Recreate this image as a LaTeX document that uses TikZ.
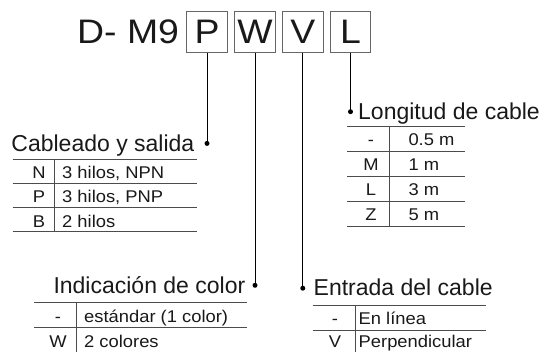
\documentclass[tikz,border=0pt]{standalone}
\usepackage{fontspec}
\setmainfont{Liberation Sans}
\newfontfamily\widefont[FakeStretch=1.1]{Liberation Sans}
\newfontfamily\cellfont[FakeStretch=1.08]{Liberation Sans}
\begin{document}
\begin{tikzpicture}[x=1pt,y=-1pt,
  big/.style={font=\widefont\fontsize{34}{36}\selectfont, inner sep=0, text=black!90},
  letterbox/.style={draw=black!60, line width=0.9pt, minimum width=40.6pt, minimum height=40.6pt, inner sep=0, font=\widefont\fontsize{34}{36}\selectfont, text=black!90},
  head/.style={font=\fontsize{23}{26}\selectfont, inner sep=0, text=black!90},
  cell/.style={font=\cellfont\fontsize{17}{19}\selectfont, inner sep=0, anchor=base west, text=black!90},
  code/.style={font=\cellfont\fontsize{17}{19}\selectfont, inner sep=0, anchor=base, text=black!90},
  rule/.style={draw=black!70, line width=0.9pt},
  dot/.style={circle, fill=black, inner sep=0, minimum size=5pt},
  stem/.style={draw=black, line width=0.9pt}
]
\useasboundingbox (0,0) rectangle (544,352);

% title
\node[big, anchor=base west] (title) at (77,43.3) {D- M9};
\node[letterbox] (bP) at (207,32) {P};
\node[letterbox] (bW) at (255,32) {W};
\node[letterbox] (bV) at (302.8,32) {V};
\node[letterbox] (bL) at (350.5,32) {L};

% dots
\node[dot] (dP) at (207,143.4) {};
\node[dot] (dL) at (350.5,111.7) {};
\node[dot] (dW) at (255,285.3) {};
\node[dot] (dV) at (302.8,288.2) {};

% stems
\draw[stem] (bP.south) -- (dP.center);
\draw[stem] (bW.south) -- (dW.center);
\draw[stem] (bV.south) -- (dV.center);
\draw[stem] (bL.south) -- (dL.center);

% ---- Cableado y salida
\node[head, anchor=base east] (hC) at (194.5,151.6) {Cableado y salida};
\draw[rule] (12.7,159) -- (196.7,159);
\draw[rule] (12.7,183.2) -- (196.7,183.2);
\draw[rule] (12.7,207.4) -- (196.7,207.4);
\draw[rule] (12.7,231.7) -- (196.7,231.7);
\draw[rule] (54.3,159) -- (54.3,231.7);
\node[code] (cN) at (39,178.6) {N};
\node[cell] (tN) at (62,178.6) {3 hilos, NPN};
\node[code] (cP) at (39,202.8) {P};
\node[cell] (tP) at (62,202.8) {3 hilos, PNP};
\node[code] (cB) at (39,227.2) {B};
\node[cell] (tB) at (62,227.2) {2 hilos};

% ---- Longitud de cable
\node[head, anchor=base west] (hL) at (358,120) {Longitud de cable};
\draw[rule] (347.3,126.7) -- (465,126.7);
\draw[rule] (347.3,151.7) -- (465,151.7);
\draw[rule] (347.3,176.7) -- (465,176.7);
\draw[rule] (347.3,201.7) -- (465,201.7);
\draw[rule] (347.3,226.7) -- (465,226.7);
\draw[rule] (389.3,126.7) -- (389.3,226.7);
\node[code] (c1) at (371,145.7) {-};
\node[cell] (t1) at (408.3,145.7) {0.5 m};
\node[code] (c2) at (371,170.7) {M};
\node[cell] (t2) at (408.3,170.7) {1 m};
\node[code] (c3) at (371,195.7) {L};
\node[cell] (t3) at (408.3,195.7) {3 m};
\node[code] (c4) at (371,220.7) {Z};
\node[cell] (t4) at (408.3,220.7) {5 m};

% ---- Indicacion de color
\node[head, anchor=base east] (hI) at (245.5,294) {Indicación de color};
\draw[rule] (34,302.3) -- (246.7,302.3);
\draw[rule] (34,327.3) -- (246.7,327.3);
\draw[rule] (76,302.3) -- (76,352);
\node[code] (ci1) at (58,322.6) {-};
\node[cell] (ti1) at (84,322.6) {estándar (1 color)};
\node[code] (ci2) at (58,347.3) {W};
\node[cell] (ti2) at (84,347.3) {2 colores};

% ---- Entrada del cable
\node[head, anchor=base west] (hE) at (313.5,296) {Entrada del cable};
\draw[rule] (312.7,305) -- (485.5,305);
\draw[rule] (312.7,330) -- (485.5,330);
\draw[rule] (355,305) -- (355,352);
\node[code] (ce1) at (335,324.5) {-};
\node[cell] (te1) at (358.5,324.5) {En línea};
\node[code] (ce2) at (335,348) {V};
\node[cell] (te2) at (358.5,348) {Perpendicular};
\end{tikzpicture}
\end{document}
